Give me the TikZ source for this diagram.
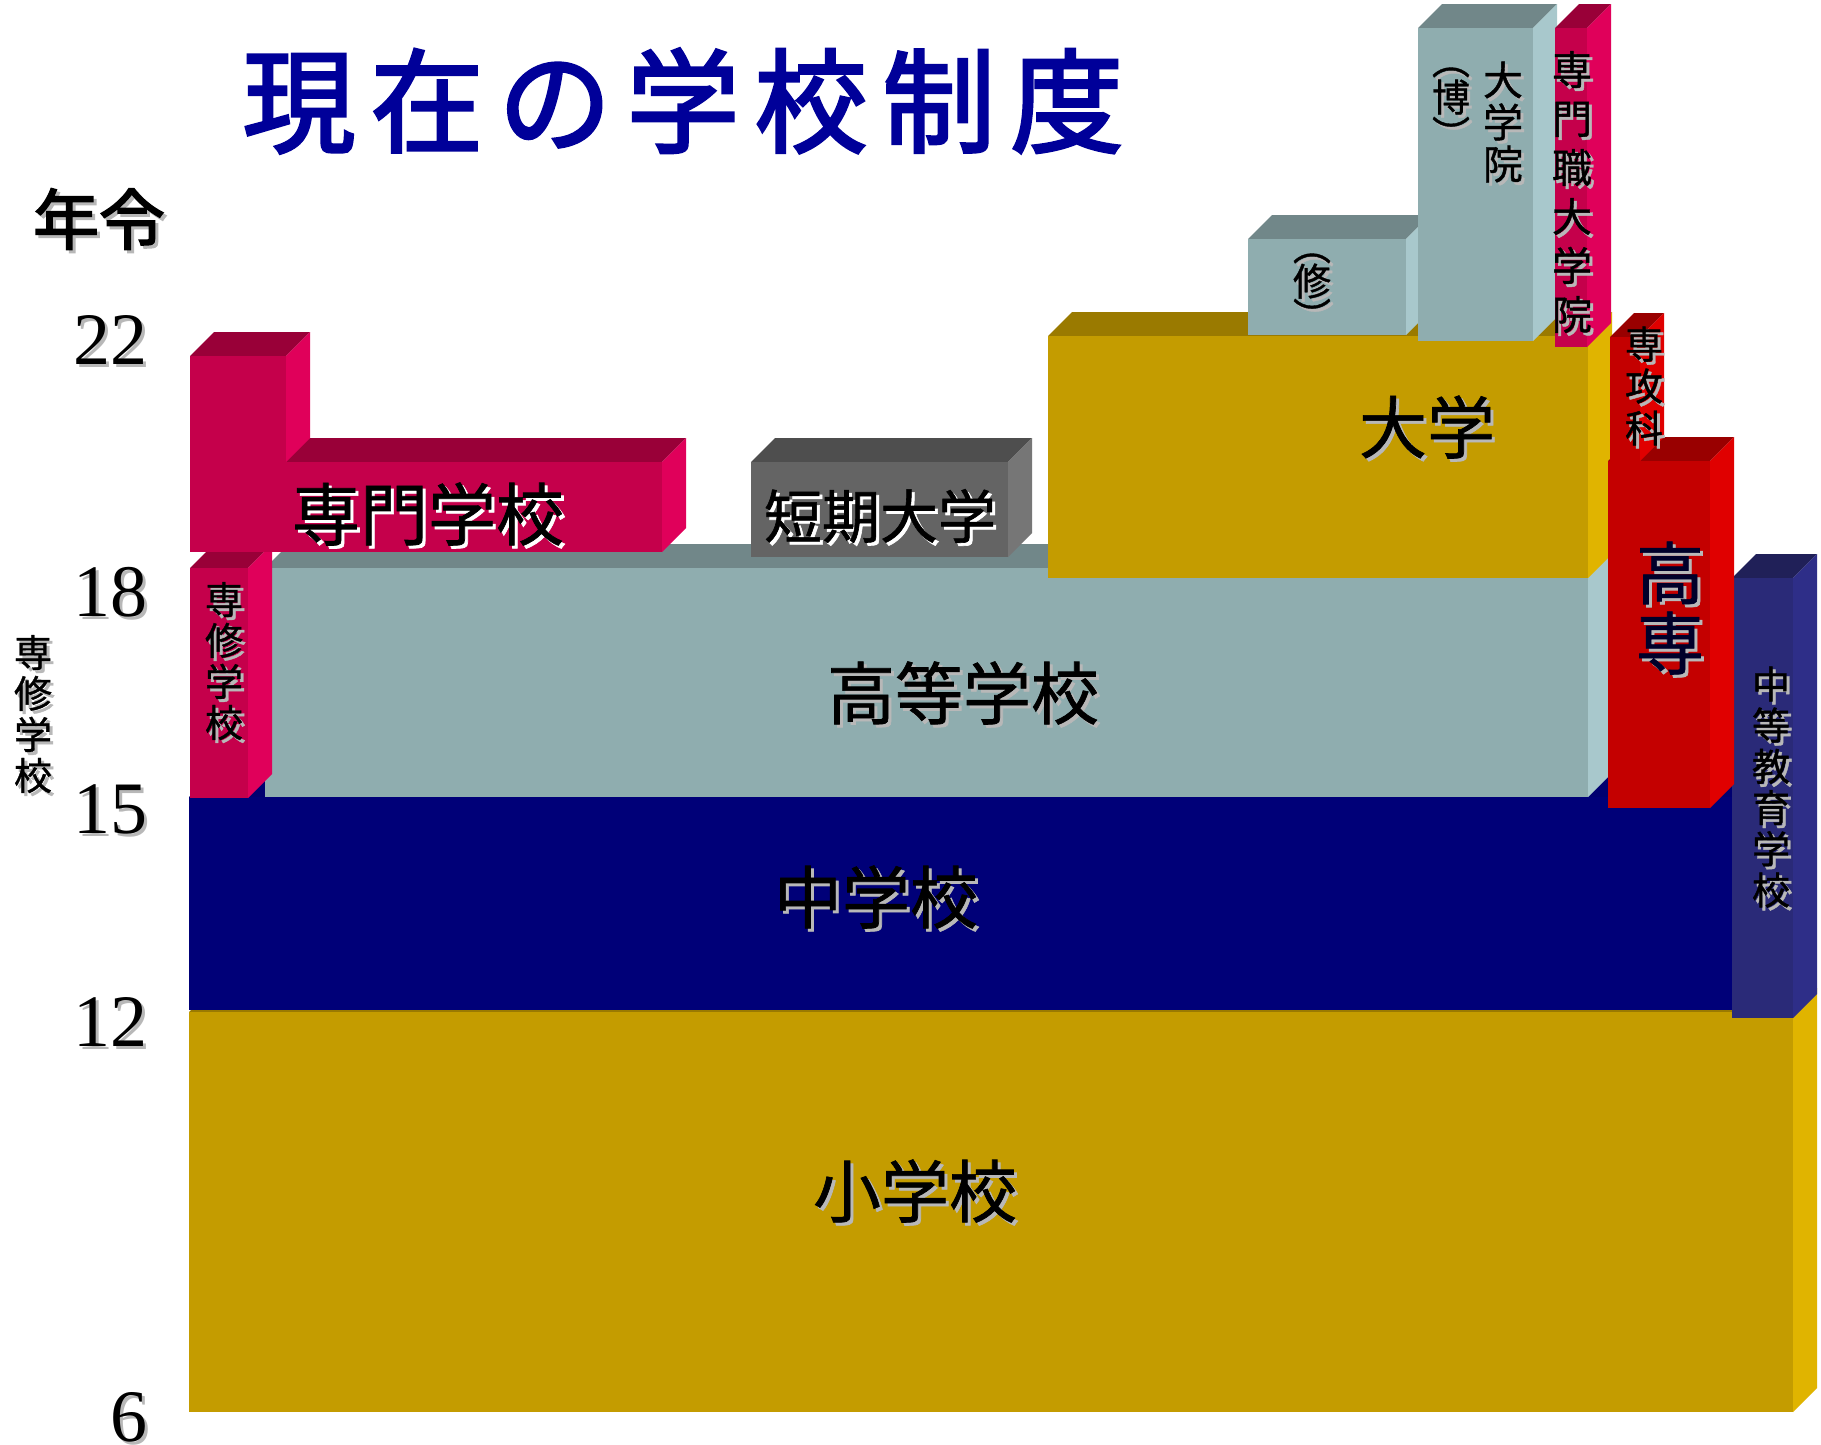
\documentclass[tikz,border=0pt]{standalone}
\usepackage{fontspec}
\setmainfont{Liberation Serif}
\newfontfamily\jp[FakeBold=1]{Noto Sans CJK JP}
\newfontfamily\jpt[FakeBold=2.5]{Noto Sans CJK JP}
\definecolor{gfront}{HTML}{C49C00}
\definecolor{gside}{HTML}{E0B400}
\definecolor{gtop}{HTML}{9A7A00}
\definecolor{nfront}{HTML}{000078}
\definecolor{nside}{HTML}{000070}
\definecolor{ntop}{HTML}{000070}
\definecolor{hfront}{HTML}{8FADAF}
\definecolor{hside}{HTML}{A8C8CC}
\definecolor{htop}{HTML}{718789}
\definecolor{pfront}{HTML}{C5004B}
\definecolor{pside}{HTML}{E0005A}
\definecolor{ptop}{HTML}{990038}
\definecolor{rfront}{HTML}{C40000}
\definecolor{rside}{HTML}{E00000}
\definecolor{rtop}{HTML}{990000}
\definecolor{kfront}{HTML}{646464}
\definecolor{kside}{HTML}{767676}
\definecolor{ktop}{HTML}{4E4E4E}
\definecolor{cfront}{HTML}{2A2A78}
\definecolor{cside}{HTML}{2E2E88}
\definecolor{ctop}{HTML}{202058}
\definecolor{titleblue}{HTML}{000099}
\definecolor{shgray}{HTML}{B8B8B8}
\definecolor{kosenink}{HTML}{00002A}
% x1 y1 x2 y2 colour-prefix
\newcommand{\eduCube}[5]{%
  \fill[#5top] (#1,#2) -- ({#1+24},{#2-24}) -- ({#3+24},{#2-24}) -- (#3,#2) -- cycle;
  \fill[#5side] (#3,#2) -- ({#3+24},{#2-24}) -- ({#3+24},{#4-24}) -- (#3,#4) -- cycle;
  \fill[#5front] (#1,#2) rectangle (#3,#4);}
% name x y font shadowcolour textcolour text
\newcommand{\eduText}[7]{%
  \node[lbl,text=#5,font=#4] (#1s) at ({#2+3},{#3+3}) {#7};
  \node[lbl,text=#6,font=#4] (#1) at (#2,#3) {#7};}
\newcommand{\tsp}{\hspace{15pt}}
\begin{document}
\begin{tikzpicture}[x=1pt,y=-1pt,
  lbl/.style={inner sep=0pt,align=center}]
\useasboundingbox (0,0) rectangle (1821,1444);
\fill[white] (0,0) rectangle (1821,1444);
% blocks, back to front
\eduCube{189}{1012}{1793}{1412}{g}   % 小学校
\eduCube{189}{797}{1733}{1010}{n}    % 中学校
\eduCube{1732}{578}{1793}{1018}{c}   % 中等教育学校
\eduCube{265}{568}{1588}{797}{h}     % 高等学校
\eduCube{190}{568}{248}{798}{p}      % 専修学校
\eduCube{1048}{336}{1588}{578}{g}    % 大学
\eduCube{751}{462}{1008}{557}{k}     % 短期大学
\eduCube{190}{462}{662}{552}{p}      % 専門学校 bar
\eduCube{190}{356}{286}{462}{p}      % 専門学校 tall part
\eduCube{1248}{239}{1406}{335}{h}    % 大学院 修
\eduCube{1418}{28}{1533}{341}{h}     % 大学院 博
\eduCube{1555}{28}{1587}{347}{p}     % 専門職大学院
\eduCube{1608}{461}{1710}{808}{r}    % 高専
\eduCube{1610}{337}{1640}{461}{r}    % 専攻科
% title and axis
\node[lbl,text=titleblue,font=\jpt\fontsize{113}{113}\selectfont] (title) at (683,101)
  {現\tsp 在\tsp の\tsp 学\tsp 校\tsp 制\tsp 度};
\eduText{age}{99}{219}{\jpt\fontsize{66}{66}\selectfont}{shgray}{black}{年令}
\foreach \v/\yy in {22/340,18/592,15/809,12/1022,6/1417}{
  \node[lbl,anchor=east,text=shgray,font=\fontsize{74}{74}\selectfont] (n\v s) at (151,{\yy+3}) {\v};
  \node[lbl,anchor=east,font=\fontsize{74}{74}\selectfont] (n\v) at (148,\yy) {\v};
}
\eduText{senshuL}{33}{714}{\jp\fontsize{38}{41}\selectfont}{shgray}{black}{専\\修\\学\\校}
% labels
\eduText{senshu}{224}{661}{\jp\fontsize{38}{41}\selectfont}{shgray}{black}{専\\修\\学\\校}
\eduText{senmon}{428}{514}{\jp\fontsize{68}{68}\selectfont}{white}{black}{専門学校}
\eduText{tandai}{880}{516}{\jp\fontsize{58}{58}\selectfont}{white}{black}{短期大学}
\eduText{daigaku}{1427}{427}{\jp\fontsize{68}{68}\selectfont}{shgray}{black}{大学}
\eduText{koko}{963}{693}{\jp\fontsize{68}{68}\selectfont}{shgray}{black}{高等学校}
\eduText{chugaku}{876}{897}{\jp\fontsize{68}{68}\selectfont}{shgray}{black}{中学校}
\eduText{shogaku}{915}{1191}{\jp\fontsize{68}{68}\selectfont}{shgray}{black}{小学校}
\eduText{kosen}{1670}{608}{\jp\fontsize{68}{70}\selectfont}{shgray}{kosenink}{高\\専}
\eduText{senkoka}{1644}{386}{\jp\fontsize{38}{42}\selectfont}{shgray}{black}{専\\攻\\科}
\eduText{chuto}{1771}{787}{\jp\fontsize{38}{41.2}\selectfont}{shgray}{black}{中\\等\\教\\育\\学\\校}
\eduText{senmonshoku}{1572}{192}{\jp\fontsize{40}{49}\selectfont}{shgray}{black}{専\\門\\職\\大\\学\\院}
\eduText{daigakuin}{1503}{122}{\jp\fontsize{40}{42}\selectfont}{shgray}{black}{大\\学\\院}
\eduText{haku}{1451}{108}{\jp\fontsize{38}{37}\selectfont}{shgray}{black}{︵\\博\\︶}
\eduText{shu}{1312}{292}{\jp\fontsize{38}{35}\selectfont}{shgray}{black}{︵\\修\\︶}
\end{tikzpicture}
\end{document}
